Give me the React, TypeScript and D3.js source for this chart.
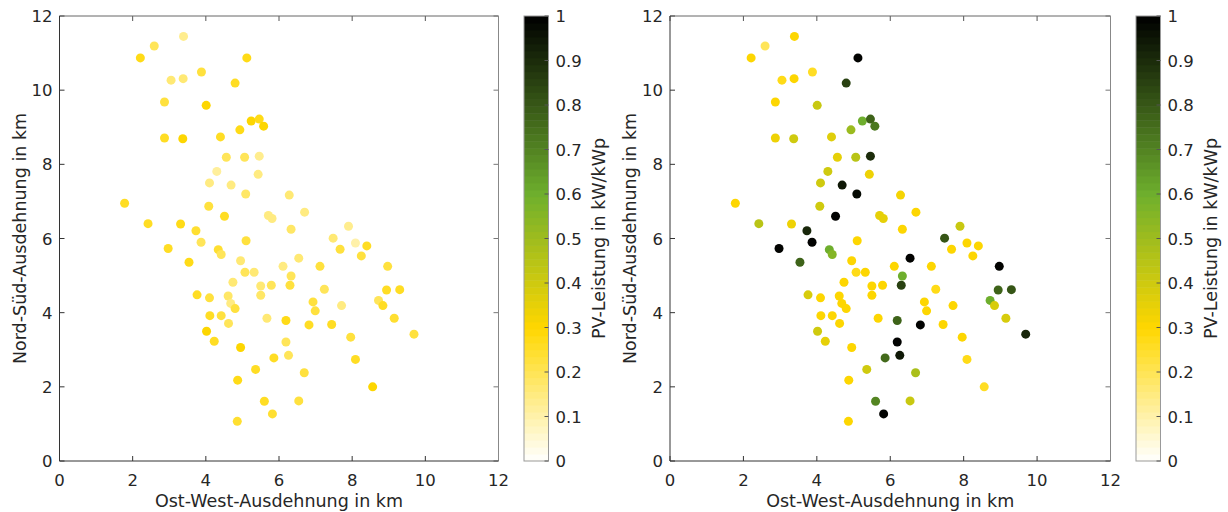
import React, { useRef, useEffect } from 'react';
import * as d3 from 'd3';

// Standorte (km) und PV-Leistung (kW/kWp) in beiden Zeitpunkten
const xKm = [
  1.78, 2.21, 2.59, 3.39, 3.05, 3.38, 3.88, 5.12, 4.80, 2.87,
  4.01, 5.24, 5.46, 5.58, 4.93, 2.87, 3.37, 4.40, 4.56, 5.06,
  5.46, 4.30, 5.43, 4.10, 4.69, 5.09, 6.28, 4.08, 4.51, 5.71,
  5.81, 6.70, 6.33, 2.42, 3.31, 3.73, 3.87, 5.10, 2.97, 4.34,
  4.42, 3.54, 4.95, 6.54, 7.90, 7.48, 8.09, 8.40, 7.67, 8.25,
  5.07, 5.32, 6.11, 6.33, 7.12, 4.74, 5.50, 5.79, 6.30, 5.50,
  3.76, 4.10, 4.61, 4.68, 4.80, 6.93, 6.99, 4.11, 4.42, 4.62,
  5.67, 6.19, 6.82, 4.02, 4.23, 6.19, 6.26, 4.95, 5.86, 5.36,
  6.69, 4.87, 5.60, 6.54, 5.82, 4.86, 8.97, 7.24, 8.94, 9.30,
  7.71, 8.72, 8.84, 9.15, 7.44, 7.96, 9.69, 8.09, 8.56,
];
const yKm = [
  6.95, 10.87, 11.19, 11.45, 10.27, 10.31, 10.49, 10.87, 10.19, 9.68,
  9.59, 9.17, 9.22, 9.03, 8.93, 8.71, 8.69, 8.74, 8.19, 8.19,
  8.22, 7.81, 7.73, 7.50, 7.44, 7.20, 7.17, 6.87, 6.60, 6.62,
  6.54, 6.71, 6.25, 6.40, 6.39, 6.21, 5.90, 5.94, 5.73, 5.70,
  5.57, 5.36, 5.40, 5.47, 6.33, 6.01, 5.88, 5.80, 5.71, 5.53,
  5.09, 5.09, 5.25, 4.99, 5.25, 4.82, 4.72, 4.74, 4.74, 4.47,
  4.48, 4.40, 4.45, 4.25, 4.11, 4.29, 4.05, 3.92, 3.92, 3.71,
  3.85, 3.79, 3.67, 3.50, 3.23, 3.21, 2.85, 3.06, 2.78, 2.47,
  2.38, 2.18, 1.61, 1.62, 1.27, 1.07, 5.25, 4.63, 4.61, 4.62,
  4.19, 4.33, 4.19, 3.85, 3.68, 3.34, 3.42, 2.74, 2.00,
];
const pvLinks = [
  0.25, 0.27, 0.20, 0.13, 0.17, 0.17, 0.22, 0.28, 0.25, 0.22,
  0.30, 0.30, 0.28, 0.30, 0.28, 0.26, 0.30, 0.25, 0.20, 0.20,
  0.13, 0.12, 0.15, 0.15, 0.15, 0.18, 0.17, 0.22, 0.26, 0.15,
  0.15, 0.15, 0.18, 0.25, 0.28, 0.24, 0.20, 0.22, 0.25, 0.24,
  0.20, 0.28, 0.17, 0.16, 0.14, 0.17, 0.10, 0.25, 0.22, 0.23,
  0.20, 0.17, 0.15, 0.20, 0.22, 0.17, 0.17, 0.20, 0.22, 0.18,
  0.25, 0.23, 0.18, 0.15, 0.22, 0.23, 0.22, 0.25, 0.22, 0.20,
  0.16, 0.27, 0.25, 0.30, 0.26, 0.20, 0.20, 0.30, 0.26, 0.26,
  0.22, 0.27, 0.25, 0.22, 0.24, 0.24, 0.23, 0.20, 0.25, 0.26,
  0.15, 0.20, 0.25, 0.24, 0.25, 0.22, 0.22, 0.25, 0.30,
];
const pvRechts = [
  0.30, 0.30, 0.20, 0.30, 0.28, 0.30, 0.25, 1.00, 0.85, 0.30,
  0.42, 0.60, 0.78, 0.72, 0.50, 0.33, 0.40, 0.37, 0.35, 0.45,
  0.90, 0.40, 0.33, 0.40, 0.95, 0.97, 0.32, 0.40, 1.00, 0.35,
  0.35, 0.30, 0.30, 0.45, 0.33, 0.92, 1.00, 0.30, 1.00, 0.60,
  0.55, 0.78, 0.30, 1.00, 0.42, 0.80, 0.30, 0.30, 0.30, 0.30,
  0.28, 0.30, 0.30, 0.60, 0.30, 0.30, 0.30, 0.30, 0.85, 0.30,
  0.38, 0.30, 0.30, 0.30, 0.30, 0.30, 0.30, 0.30, 0.30, 0.30,
  0.30, 0.78, 1.00, 0.40, 0.35, 1.00, 0.95, 0.30, 0.75, 0.40,
  0.48, 0.30, 0.70, 0.42, 1.00, 0.30, 1.00, 0.28, 0.78, 0.80,
  0.30, 0.60, 0.38, 0.38, 0.30, 0.30, 0.92, 0.28, 0.25,
];

const achsTicks = [0, 2, 4, 6, 8, 10, 12];
const cbTicks = [0, 0.1, 0.2, 0.3, 0.4, 0.5, 0.6, 0.7, 0.8, 0.9, 1];
const cmapStops = [0, 0.3, 0.6, 1];
const cmapFarben = ['#ffffff', '#ffd700', '#6eaf2d', '#000000'];

const font = '"DejaVu Sans", Verdana, sans-serif';
const textFarbe = '#262626';

const App = () => {
  const ref = useRef<SVGSVGElement>(null);

  useEffect(() => {
    const svg = d3.select(ref.current);
    svg.selectAll('*').remove();

    const interp = d3.scaleLinear<string>().domain(cmapStops).range(cmapFarben).interpolate(d3.interpolateRgb);
    const nStufen = 64;
    const farbe = (v: number) => {
      const k = Math.min(nStufen - 1, Math.floor(v * nStufen));
      return interp((k + 0.5) / nStufen);
    };

    const top = 16, bottom = 461;

    const panel = (left: number, right: number, cbLeft: number, werte: number[]) => {
      const x = d3.scaleLinear().domain([0, 12]).range([left, right]);
      const y = d3.scaleLinear().domain([0, 12]).range([bottom, top]);
      const g = svg.append('g');

      // Punkte
      g.selectAll('circle')
        .data(xKm.map((d, i) => ({ x: d, y: yKm[i], v: werte[i] })))
        .enter().append('circle')
        .attr('cx', d => x(d.x))
        .attr('cy', d => y(d.y))
        .attr('r', 4.5)
        .attr('fill', d => farbe(d.v));

      // Rahmen mit Ticks nach innen
      const tl = 5;
      achsTicks.forEach(t => {
        g.append('line').attr('x1', x(t)).attr('x2', x(t)).attr('y1', bottom).attr('y2', bottom - tl).attr('stroke', '#333');
        g.append('line').attr('x1', x(t)).attr('x2', x(t)).attr('y1', top).attr('y2', top + tl).attr('stroke', '#555');
        g.append('line').attr('y1', y(t)).attr('y2', y(t)).attr('x1', left).attr('x2', left + tl).attr('stroke', '#333');
        g.append('line').attr('y1', y(t)).attr('y2', y(t)).attr('x1', right).attr('x2', right - tl).attr('stroke', '#777');
        g.append('text').attr('x', x(t)).attr('y', bottom + 25).attr('text-anchor', 'middle')
          .text(t);
        g.append('text').attr('x', left - 7).attr('y', y(t) + 6).attr('text-anchor', 'end')
          .text(t);
      });
      g.append('line').attr('x1', left).attr('x2', right).attr('y1', top).attr('y2', top).attr('stroke', '#666');
      g.append('line').attr('x1', right).attr('x2', right).attr('y1', top).attr('y2', bottom).attr('stroke', '#888');
      g.append('line').attr('x1', left).attr('x2', right).attr('y1', bottom).attr('y2', bottom).attr('stroke', '#333');
      g.append('line').attr('x1', left).attr('x2', left).attr('y1', top).attr('y2', bottom).attr('stroke', '#333');

      g.append('text').attr('x', (left + right) / 2).attr('y', bottom + 46).attr('text-anchor', 'middle')
        .attr('font-size', 17.5).text('Ost-West-Ausdehnung in km');
      g.append('text').attr('transform', `translate(${left - 34},${(top + bottom) / 2}) rotate(-90)`)
        .attr('text-anchor', 'middle').attr('font-size', 17.5).text('Nord-Süd-Ausdehnung in km');

      // Farbskala
      const cbW = 24.5;
      const c = d3.scaleLinear().domain([0, 1]).range([bottom, top]);
      d3.range(nStufen).forEach(k => {
        g.append('rect')
          .attr('x', cbLeft).attr('width', cbW)
          .attr('y', c((k + 1) / nStufen)).attr('height', c(k / nStufen) - c((k + 1) / nStufen) + 0.5)
          .attr('fill', interp((k + 0.5) / nStufen));
      });
      g.append('rect').attr('x', cbLeft).attr('y', top).attr('width', cbW).attr('height', bottom - top)
        .attr('fill', 'none').attr('stroke', '#999');
      cbTicks.forEach(t => {
        g.append('line').attr('x1', cbLeft + cbW).attr('x2', cbLeft + cbW - 4).attr('y1', c(t)).attr('y2', c(t))
          .attr('stroke', '#555');
        g.append('text').attr('x', cbLeft + cbW + 7).attr('y', c(t) + 6).text(t === 0 || t === 1 ? String(t) : t.toFixed(1));
      });
      g.append('text').attr('transform', `translate(${cbLeft + 81},${(top + bottom) / 2}) rotate(-90)`)
        .attr('text-anchor', 'middle').attr('font-size', 17.5).text('PV-Leistung in kW/kWp');
    };

    panel(59.5, 498.5, 524, pvLinks);
    panel(670, 1110.5, 1136, pvRechts);
  });

  return (
    <svg ref={ref} width={1228} height={512}
      style={{ position: 'absolute', left: 0, top: 0, background: '#fff' }}
      fontFamily={font} fontSize={16.5} fill={textFarbe} />
  );
};

export default App;
